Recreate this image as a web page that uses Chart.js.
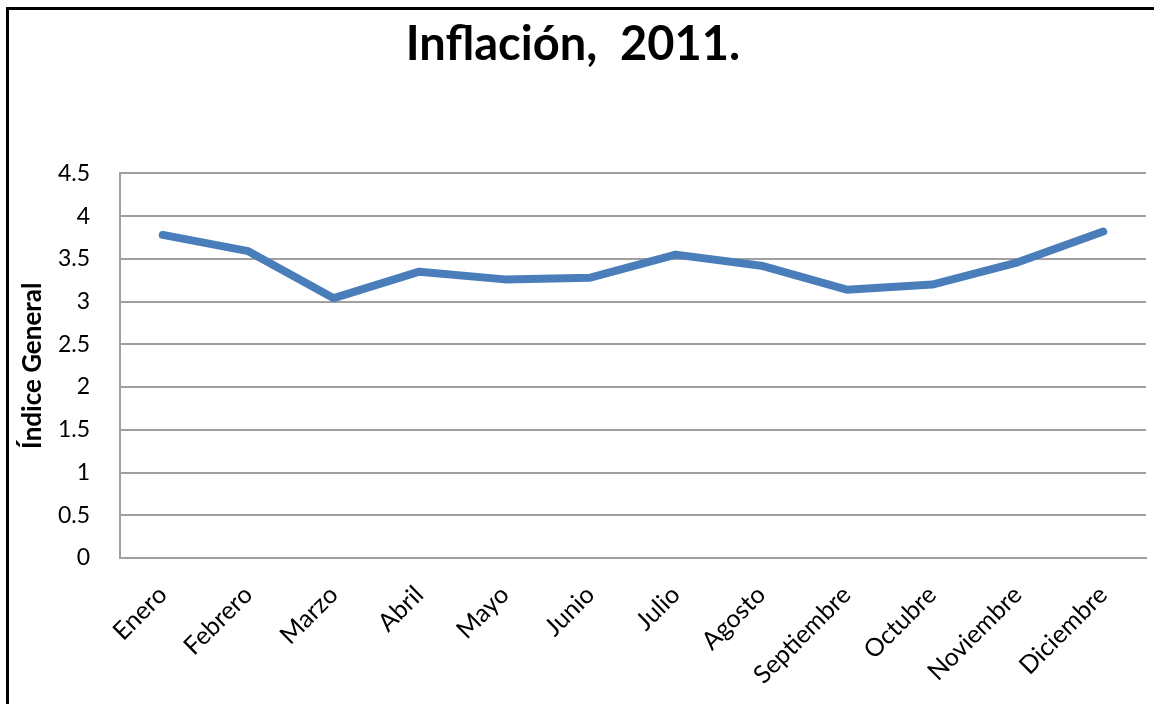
<!DOCTYPE html>
<html>
<head>
<meta charset="utf-8">
<title>Inflación, 2011.</title>
<script src="https://cdn.jsdelivr.net/npm/chart.js@4"></script>
<style>
  html, body { margin: 0; padding: 0; background: #fff; overflow: hidden; }
  #wrap { position: relative; width: 1154px; height: 704px; }
  #frame {
    position: absolute; left: 6px; top: 7px; width: 1200px; height: 760px;
    border-left: 3px solid #000; border-top: 3px solid #000; pointer-events: none;
  }
</style>
</head>
<body>
<div id="wrap">
  <canvas id="chart" width="1154" height="704"></canvas>
  <div id="frame"></div>
</div>
<script>
// chart data
var meses = ["Enero", "Febrero", "Marzo", "Abril", "Mayo", "Junio", "Julio",
  "Agosto", "Septiembre", "Octubre", "Noviembre", "Diciembre"];
var inflacion = [3.78, 3.59, 3.04, 3.35, 3.26, 3.28, 3.55, 3.42, 3.14, 3.20, 3.46, 3.82];
var yMin = 0;
var yMax = 4.5;
var yStep = 0.5;

var fontFamily = "Lato, 'Open Sans', sans-serif";

var ctx = document.getElementById("chart");
var chart = new Chart(ctx, {
  type: "line",
  data: {
    labels: meses,
    datasets: [
      {
        label: "Índice General",
        data: inflacion,
        borderColor: "#4a7ebb",
        backgroundColor: "#4a7ebb",
        borderWidth: 8,
        borderCapStyle: "round",
        borderJoinStyle: "round",
        pointRadius: 0,
        tension: 0,
        fill: false,
      },
    ],
  },
  options: {
    responsive: false,
    animation: false,
    layout: { padding: { left: 0, right: 8, top: 0, bottom: 0 } },
    plugins: {
      legend: { display: false },
      tooltip: { enabled: false },
      title: {
        display: true,
        text: "Inflación,  2011.",
        color: "#000",
        font: { family: fontFamily, size: 47, weight: "bold" },
        padding: { top: 17, bottom: 100 },
      },
    },
    scales: {
      x: {
        offset: true,
        grid: { display: false },
        border: { display: true, color: "#a0a0a0", width: 2 },
        ticks: {
          color: "#000",
          font: { family: fontFamily, size: 25 },
          minRotation: 45,
          maxRotation: 45,
          padding: 14,
        },
        afterFit: function (scale) {
          scale.height = 146;
        },
      },
      y: {
        min: yMin,
        max: yMax,
        ticks: {
          stepSize: yStep,
          color: "#000",
          font: { family: fontFamily, size: 23 },
          padding: 30,
          callback: function (value) {
            return String(value);
          },
        },
        grid: { color: "#a0a0a0", lineWidth: 2, drawTicks: false },
        border: { display: true, color: "#a0a0a0", width: 2 },
        title: {
          display: true,
          text: "Índice General",
          color: "#000",
          font: { family: fontFamily, size: 26, weight: "bold" },
          padding: { top: 17, bottom: 0 },
        },
        afterFit: function (scale) {
          scale.width = 120;
        },
      },
    },
  },
});
</script>
</body>
</html>
